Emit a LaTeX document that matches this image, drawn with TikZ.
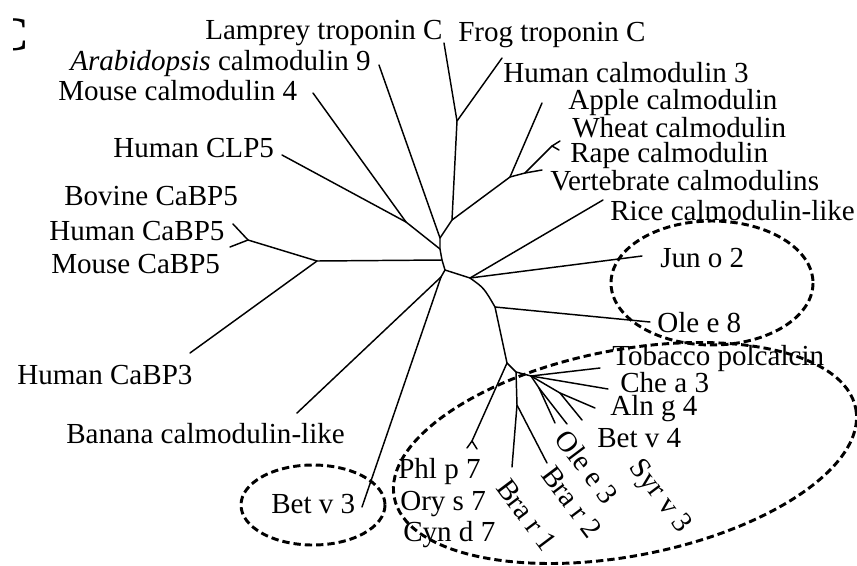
\documentclass[tikz,border=0pt]{standalone}
\usepackage{fontspec}
\setmainfont{Liberation Serif}
\begin{document}
\begin{tikzpicture}[x=0.75pt,y=-0.75pt,
  br/.style={line width=1.1pt,line cap=round,line join=round},
  lab/.style={font=\fontsize{21.8}{24}\selectfont,inner sep=0pt,anchor=base west},
  rlab/.style={font=\fontsize{21.8}{24}\selectfont,inner sep=0pt,rotate=-53},
  grp/.style={line width=2.2pt,dash pattern=on 5.5pt off 3pt}]
\useasboundingbox (0,0) rectangle (857,565);
% panel letter (cut off at the left)
\begin{scope}
\clip (13,0) rectangle (40,60);
\node[font=\fontsize{36}{40}\selectfont\bfseries,inner sep=0pt,anchor=base east] (panel) at (29,50) {C};
\end{scope}
% internal nodes
\coordinate (R) at (445,270);
\coordinate (Nm3) at (442,260);
\coordinate (N5m) at (440,249);
\coordinate (N4) at (440,238);
\coordinate (N2) at (452,220);
\coordinate (N1) at (457,121);
\coordinate (N3) at (510,177);
\coordinate (N3b) at (525,173);
\coordinate (fWR) at (552,146);
\coordinate (N5) at (406,222);
\coordinate (NCa) at (317,261);
\coordinate (fCa) at (248,240);
\coordinate (L) at (441,277);
\coordinate (B) at (470,278);
\coordinate (C) at (495,307);
\coordinate (D) at (507,363);
\coordinate (E) at (516,372);
\coordinate (E2) at (531,376);
\coordinate (F) at (517,405);
\coordinate (G) at (560,393);
\coordinate (H) at (539,388);
\coordinate (fPhl) at (472,441);
% tips
\coordinate (tLam) at (444,43);
\coordinate (tHC3) at (502,58);
\coordinate (tApple) at (542,103);
\coordinate (tW) at (560,141);
\coordinate (tRp) at (559,150);
\coordinate (tVert) at (542,170);
\coordinate (tArab) at (379,65);
\coordinate (tMouse4) at (313,93);
\coordinate (tCLP5) at (282,155);
\coordinate (tCa1) at (233,224);
\coordinate (tCa2) at (230,247);
\coordinate (tCaBP3) at (190,353);
\coordinate (tBanana) at (297,413);
\coordinate (tBetv3) at (362,507);
\coordinate (tRice) at (603,200);
\coordinate (tJun) at (642,256);
\coordinate (tOle8) at (650,322);
\coordinate (tPhlA) at (467,448);
\coordinate (tPhlB) at (477,449);
\coordinate (tBra1) at (512,467);
\coordinate (tBra2) at (547,463);
\coordinate (tTob) at (600,368);
\coordinate (tChe) at (608,389);
\coordinate (tAln) at (595,408);
\coordinate (tBetv4) at (582,420);
\coordinate (tOle3) at (555,423);
\coordinate (tSyr) at (567,424);
% branches
\draw[br] (R) -- (Nm3) -- (N5m) -- (N4) -- (N2) -- (N1) -- (tLam);
\draw[br] (N1) -- (tHC3);
\draw[br] (N2) -- (N3) -- (tApple);
\draw[br] (N3) -- (N3b) -- (tVert);
\draw[br] (N3b) -- (fWR) -- (tW);
\draw[br] (fWR) -- (tRp);
\draw[br] (N4) -- (tArab);
\draw[br] (N5m) -- (N5) -- (tMouse4);
\draw[br] (N5) -- (tCLP5);
\draw[br] (Nm3) -- (NCa) -- (fCa) -- (tCa1);
\draw[br] (fCa) -- (tCa2);
\draw[br] (NCa) -- (tCaBP3);
\draw[br] (R) -- (L) -- (tBanana);
\draw[br] (L) -- (tBetv3);
\draw[br] (R) -- (B) -- (tRice);
\draw[br] (B) -- (tJun);
\draw[br] (B) .. controls (484,288) .. (C) -- (tOle8);
\draw[br] (C) -- (D) -- (E) -- (E2);
\draw[br] (D) -- (fPhl) -- (tPhlA);
\draw[br] (fPhl) -- (tPhlB);
\draw[br] (E) -- (F) -- (tBra1);
\draw[br] (F) -- (tBra2);
\draw[br] (E2) -- (tTob);
\draw[br] (E2) -- (tChe);
\draw[br] (E2) -- (G) -- (tAln);
\draw[br] (G) -- (tBetv4);
\draw[br] (E2) -- (H) -- (tOle3);
\draw[br] (H) -- (tSyr);
% labels
\node[lab] (lLam) at (205,39) {Lamprey troponin C};
\node[lab] (lFrog) at (458,41) {Frog troponin C};
\node[lab] (lArab) at (70,70) {\textit{Arabidopsis} calmodulin 9};
\node[lab] (lHC3) at (503,82) {Human calmodulin 3};
\node[lab] (lM4) at (58,100) {Mouse calmodulin 4};
\node[lab] (lApple) at (568,109) {Apple calmodulin};
\node[lab] (lWheat) at (572,137) {Wheat calmodulin};
\node[lab] (lRape) at (570,162) {Rape calmodulin};
\node[lab] (lVert) at (550,190) {Vertebrate calmodulins};
\node[lab] (lRice) at (610,220) {Rice calmodulin-like};
\node[lab] (lCLP5) at (113,157) {Human CLP5};
\node[lab] (lBov) at (64,205) {Bovine CaBP5};
\node[lab] (lHCa5) at (49,240) {Human CaBP5};
\node[lab] (lMCa5) at (51,273) {Mouse CaBP5};
\node[lab] (lHCa3) at (17,384) {Human CaBP3};
\node[lab] (lBan) at (66,443) {Banana calmodulin-like};
\node[lab] (lBetv3) at (271,513) {Bet v 3};
\node[lab] (lJun) at (660,267) {Jun o 2};
\node[lab] (lOle8) at (657,332) {Ole e 8};
\node[lab] (lTob) at (612,365) {Tobacco polcalcin};
\node[lab] (lChe) at (620,392) {Che a 3};
\node[lab] (lAln) at (610,415) {Aln g 4};
\node[lab] (lBetv4) at (597,447) {Bet v 4};
\node[lab] (lPhl) at (398,478) {Phl p 7};
\node[lab] (lOry) at (400,510) {Ory s 7};
\node[lab] (lCyn) at (403,541) {Cyn d 7};
\node[rlab] (lSyr) at (659,497) {Syr v 3};
\node[rlab] (lOle3) at (587,467) {Ole e 3};
\node[rlab] (lBra2) at (572,502) {Bra r 2};
\node[rlab] (lBra1) at (527,515) {Bra r 1};
% groups
\draw[grp] (712,283) ellipse [x radius=101, y radius=62];
\draw[grp, rotate around={10.9:(625,453)}] (625,453) ellipse [x radius=235, y radius=103];
\draw[grp] (313,505) ellipse [x radius=72, y radius=40];
\end{tikzpicture}
\end{document}
